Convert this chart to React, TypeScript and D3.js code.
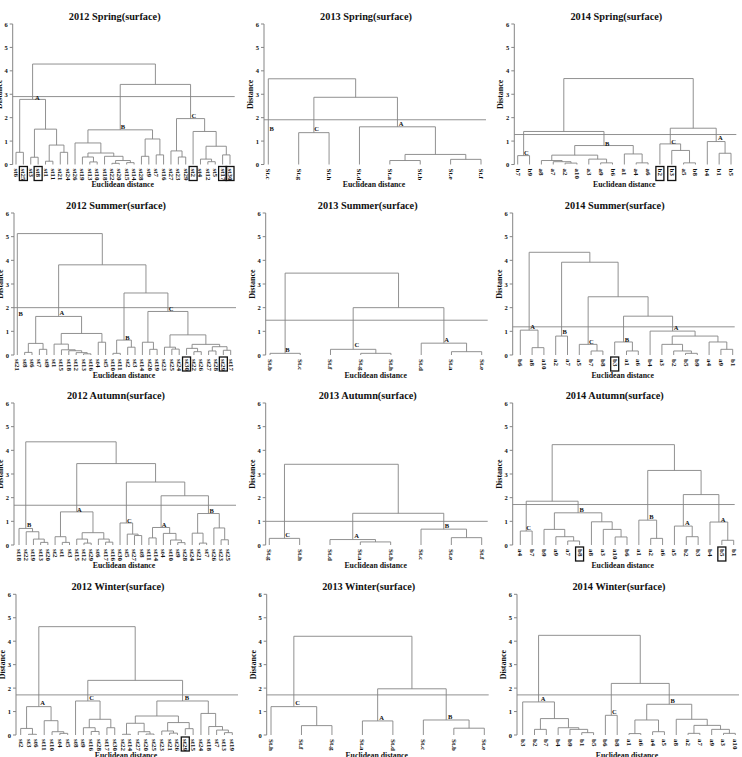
import React from "react";
import * as d3 from "d3";

type Node = number | [number, Node, Node];
type Letter = [string, number, number];

// ---------- 2012 Spring ----------
const spring2012Leaves = ["st6","st25","st3","st8","st1","st11","st21","st24","st26","st19","st13","st10","st18","st22","st20","st15","st14","st28","st9","st7","st16","st27","st23","st29","st2","st4","st12","st5","st17","st30"];
const spring2012Tree: Node = [4.29,
  [2.78, [0.52, 0, 1], [1.51, [0.31, 2, 3], [0.83, [0.14, 4, 5], [0.52, 6, 7]]]],
  [3.42,
    [1.48, [0.92, 8, [0.49, [0.32, 9, [0.11, 10, 11]], [0.35, 12, [0.17, [0.05, 13, 14], [0.08, 15, 16]]]]], [1.09, [0.35, 17, 18], [0.41, 19, 20]]],
    [1.96, [0.58, 21, [0.32, 22, 23]], [1.41, 24, [0.78, [0.23, 25, [0.12, 26, 27]], [0.41, 28, 29]]]]]];
const spring2012Cut = 2.9;
const spring2012Letters: Letter[] = [["A", 2.9, 2.88], ["B", 14.5, 1.64], ["C", 24.1, 2.08]];
const spring2012Boxed = [1, 3, 24, 28, 29];

// ---------- 2013 Spring ----------
const spring2013Leaves = ["St.c","St.g","St.h","St.d","St.a","St.b","St.e","St.f"];
const spring2013Tree: Node = [3.66, 0, [2.87, [1.36, 1, 2], [1.61, 3, [0.43, [0.17, 4, 5], [0.22, 6, 7]]]]];
const spring2013Cut = 1.91;
const spring2013Letters: Letter[] = [["B", 0.11, 1.55], ["C", 1.59, 1.55], ["A", 4.37, 1.75]];
const spring2013Boxed: number[] = [];

// ---------- 2014 Spring ----------
const spring2014Leaves = ["b7","b9","a8","a7","a2","a10","a3","a9","b6","a1","a4","a6","b2","b3","a5","b8","b4","b1","b5"];
const spring2014Tree: Node = [3.67,
  [1.41, [0.38, 0, 1], [0.81, [0.4, [0.17, 2, [0.12, 3, [0.06, 4, 5]]], [0.23, 6, [0.07, 7, 8]]], [0.45, 9, [0.07, 10, 11]]]],
  [1.55, [0.88, 12, [0.6, 13, [0.07, 14, 15]]], [0.98, 16, [0.48, 17, 18]]]];
const spring2014Cut = 1.28;
const spring2014Letters: Letter[] = [["C", 0.73, 0.51], ["B", 7.54, 0.91], ["C", 13.16, 1.0], ["A", 17.1, 1.17]];
const spring2014Boxed = [12, 13];

// ---------- 2012 Summer ----------
const summer2012Leaves = ["st21","st8","st6","st7","st9","st1","st15","st18","st12","st13","st16","st4","st5","st10","st11","st2","st3","st14","st20","st19","st23","st25","st24","st30","st22","st26","st27","st28","st29","st17"];
const summer2012Tree: Node = [5.13, 0,
  [3.81,
    [1.63, [0.49, [0.11, 1, 2], [0.24, 3, 4]], [0.91, [0.46, 5, [0.22, 6, [0.18, 7, [0.1, 8, [0.05, 9, 10]]]]], [0.54, 11, 12]]],
    [2.62, [0.63, [0.07, 13, 14], [0.33, 15, 16]],
      [1.84, [0.54, 17, [0.24, 18, 19]], [0.85, [0.33, 20, [0.25, 21, 22]], [0.45, [0.28, 23, [0.14, 24, 25]], [0.35, [0.17, 26, 27], [0.2, 28, 29]]]]]]]];
const summer2012Cut = 2.0;
const summer2012Letters: Letter[] = [["B", 0.45, 1.77], ["A", 6.05, 1.8], ["B", 14.95, 0.74], ["C", 20.9, 1.95]];
const summer2012Boxed = [23, 28];

// ---------- 2013 Summer ----------
const summer2013Leaves = ["St.b","St.c","St.f","St.g","St.h","St.d","St.a","St.e"];
const summer2013Tree: Node = [3.46, [0.07, 0, 1], [2.0, [0.24, 2, [0.07, 3, 4]], [0.5, 5, [0.14, 6, 7]]]];
const summer2013Cut = 1.47;
const summer2013Letters: Letter[] = [["B", 0.58, 0.24], ["C", 2.87, 0.43], ["A", 5.84, 0.64]];
const summer2013Boxed: number[] = [];

// ---------- 2014 Summer ----------
const summer2014Leaves = ["b6","a8","a10","a2","a7","a5","b7","b8","b3","a1","a6","b4","a3","b2","b5","b9","a4","a9","b1"];
const summer2014Tree: Node = [4.34, [1.05, 0, [0.31, 1, 2]],
  [3.92, [0.8, 3, 4],
    [2.46, [0.45, 5, [0.17, 6, 7]],
      [1.64, [0.55, 8, [0.17, 9, 10]], [1.01, 11, [0.8, [0.45, 12, [0.17, 13, [0.07, 14, 15]]], [0.55, 16, [0.24, 17, 18]]]]]]]];
const summer2014Cut = 1.19;
const summer2014Letters: Letter[] = [["A", 1.05, 1.22], ["B", 3.76, 0.98], ["C", 6.02, 0.59], ["B", 9.04, 0.66], ["A", 13.2, 1.18]];
const summer2014Boxed = [8];

// ---------- 2012 Autumn ----------
const autumn2012Leaves = ["st18","st22","st19","st13","st20","st2","st1","st3","st15","st12","st29","st6","st17","st16","st30","st5","st27","st8","st11","st14","st4","st10","st9","st28","st24","st21","st7","st26","st23","st25"];
const autumn2012Tree: Node = [4.36,
  [0.7, 0, [0.56, 1, [0.25, 2, [0.11, 3, 4]]]],
  [3.44,
    [1.4, [0.35, 5, [0.11, 6, 7]], [0.52, [0.25, 8, [0.08, 9, 10]], [0.25, 11, [0.12, 12, 13]]]],
    [2.66, [0.93, 14, [0.46, 15, [0.4, 16, 17]]],
      [2.08, [0.74, [0.3, 18, 19], [0.49, 20, [0.21, 21, [0.1, 22, 23]]]],
        [1.33, [0.5, 24, [0.08, 25, 26]], [0.72, 27, [0.22, 28, 29]]]]]]];
const autumn2012Cut = 1.68;
const autumn2012Letters: Letter[] = [["B", 1.42, 0.88], ["A", 8.36, 1.51], ["C", 15.3, 1.05], ["A", 20.1, 0.88], ["B", 26.7, 1.47]];
const autumn2012Boxed: number[] = [];

// ---------- 2013 Autumn ----------
const autumn2013Leaves = ["St.g","St.h","St.d","St.a","St.b","St.c","St.e","St.f"];
const autumn2013Tree: Node = [3.41, [0.28, 0, 1], [1.34, [0.23, 2, [0.13, 3, 4]], [0.67, 5, [0.31, 6, 7]]]];
const autumn2013Cut = 1.0;
const autumn2013Letters: Letter[] = [["C", 0.6, 0.46], ["A", 2.88, 0.41], ["B", 5.85, 0.84]];
const autumn2013Boxed: number[] = [];

// ---------- 2014 Autumn ----------
const autumn2014Leaves = ["a4","b7","b9","a9","a7","b8","a8","a3","a10","b6","a1","a2","a6","a5","b2","b3","b4","b5","b1"];
const autumn2014Tree: Node = [4.24,
  [1.85, [0.59, 0, 1], [1.36, [0.66, 2, [0.35, 3, [0.17, 4, 5]]], [0.98, 6, [0.66, 7, [0.34, 8, 9]]]]],
  [3.15, [1.05, 10, [0.28, 11, 12]], [2.13, [0.8, 13, [0.35, 14, 15]], [0.97, 16, [0.2, 17, 18]]]]];
const autumn2014Cut = 1.71;
const autumn2014Letters: Letter[] = [["C", 0.71, 0.73], ["B", 5.18, 1.5], ["B", 11.05, 1.22], ["A", 14.1, 0.94], ["A", 17.1, 1.08]];
const autumn2014Boxed = [5, 17];

// ---------- 2012 Winter ----------
const winter2012Leaves = ["st2","st3","st6","st11","st10","st4","st5","st8","st9","st16","st28","st17","st30","st22","st14","st27","st20","st25","st23","st21","st26","st29","st15","st24","st18","st7","st13","st19"];
const winter2012Tree: Node = [4.62,
  [1.21, [0.28, 0, [0.03, 1, 2]], [0.61, 3, [0.14, 4, [0.07, 5, 6]]]],
  [2.33,
    [1.45, 7, [0.67, [0.31, 8, [0.15, 9, 10]], [0.31, 11, 12]]],
    [1.45,
      [0.81, [0.5, [0.03, 13, 14], [0.14, 15, [0.04, 16, 17]]], [0.53, [0.17, 18, [0.08, 19, 20]], [0.27, 21, 22]]],
      [0.92, 23, [0.36, 24, [0.21, 25, [0.1, 26, 27]]]]]]];
const winter2012Cut = 1.71;
const winter2012Letters: Letter[] = [["A", 2.81, 1.38], ["C", 9.06, 1.59], ["B", 21.2, 1.59]];
const winter2012Boxed = [21];

// ---------- 2013 Winter ----------
const winter2013Leaves = ["St.h","St.f","St.g","St.a","St.d","St.c","St.b","St.e"];
const winter2013Tree: Node = [4.21, [1.21, 0, [0.4, 1, 2]], [1.97, [0.6, 3, 4], [0.64, 5, [0.29, 6, 7]]]];
const winter2013Cut = 1.71;
const winter2013Letters: Letter[] = [["C", 0.875, 1.39], ["A", 3.63, 0.76], ["B", 5.88, 0.79]];
const winter2013Boxed: number[] = [];

// ---------- 2014 Winter ----------
const winter2014Leaves = ["b3","b2","b7","b4","b9","b1","b5","b6","b8","a1","a6","a4","a5","a8","a2","a7","a9","a3","a10"];
const winter2014Tree: Node = [4.25,
  [1.41, 0, [0.7, [0.24, 1, 2], [0.31, 3, [0.24, 4, [0.1, 5, 6]]]]],
  [2.2, [0.84, 7, 8], [1.31, [0.64, [0.06, 9, 10], [0.14, 11, 12]], [0.67, 13, [0.41, [0.07, 14, 15], [0.24, 16, [0.07, 17, 18]]]]]]];
const winter2014Cut = 1.71;
const winter2014Letters: Letter[] = [["A", 1.72, 1.56], ["C", 7.77, 1.02], ["B", 12.7, 1.45]];
const winter2014Boxed: number[] = [];

const yTicks = [0, 1, 2, 3, 4, 5, 6];

const PANELS = [
  { title: "2012 Spring(surface)", leaves: spring2012Leaves, tree: spring2012Tree, cut: spring2012Cut, letters: spring2012Letters, boxed: spring2012Boxed },
  { title: "2013 Spring(surface)", leaves: spring2013Leaves, tree: spring2013Tree, cut: spring2013Cut, letters: spring2013Letters, boxed: spring2013Boxed },
  { title: "2014 Spring(surface)", leaves: spring2014Leaves, tree: spring2014Tree, cut: spring2014Cut, letters: spring2014Letters, boxed: spring2014Boxed },
  { title: "2012 Summer(surface)", leaves: summer2012Leaves, tree: summer2012Tree, cut: summer2012Cut, letters: summer2012Letters, boxed: summer2012Boxed },
  { title: "2013 Summer(surface)", leaves: summer2013Leaves, tree: summer2013Tree, cut: summer2013Cut, letters: summer2013Letters, boxed: summer2013Boxed },
  { title: "2014 Summer(surface)", leaves: summer2014Leaves, tree: summer2014Tree, cut: summer2014Cut, letters: summer2014Letters, boxed: summer2014Boxed },
  { title: "2012 Autumn(surface)", leaves: autumn2012Leaves, tree: autumn2012Tree, cut: autumn2012Cut, letters: autumn2012Letters, boxed: autumn2012Boxed },
  { title: "2013 Autumn(surface)", leaves: autumn2013Leaves, tree: autumn2013Tree, cut: autumn2013Cut, letters: autumn2013Letters, boxed: autumn2013Boxed },
  { title: "2014 Autumn(surface)", leaves: autumn2014Leaves, tree: autumn2014Tree, cut: autumn2014Cut, letters: autumn2014Letters, boxed: autumn2014Boxed },
  { title: "2012 Winter(surface)", leaves: winter2012Leaves, tree: winter2012Tree, cut: winter2012Cut, letters: winter2012Letters, boxed: winter2012Boxed },
  { title: "2013 Winter(surface)", leaves: winter2013Leaves, tree: winter2013Tree, cut: winter2013Cut, letters: winter2013Letters, boxed: winter2013Boxed },
  { title: "2014 Winter(surface)", leaves: winter2014Leaves, tree: winter2014Tree, cut: winter2014Cut, letters: winter2014Letters, boxed: winter2014Boxed },
];

// ---------- geometry ----------
const W = 742, H = 757;
const AXIS_X = [[12.7, 264, 514.3], [14, 265.7, 512.7], [14, 265.7, 512.7], [16, 266.7, 517]];
const LEAF_RANGE = [
  [[16, 230], [268.3, 481], [517.7, 731]],
  [[17.3, 230.7], [270, 481.7], [520.3, 732.7]],
  [[19, 228.3], [269.3, 481.7], [520.3, 733.7]],
  [[20.7, 232.3], [271, 484.3], [522.7, 735.3]],
];
const ROW_Y0 = [164.5, 355, 545, 735];
const ROW_Y6 = [24, 213, 403, 594.3];

const LINE = "#858585";
const FONT = "'Liberation Serif', 'DejaVu Serif', serif";

function Panel({ p, row, col }: { p: typeof PANELS[number]; row: number; col: number }) {
  const ax = AXIS_X[row][col];
  const [l0, l1] = LEAF_RANGE[row][col];
  const y0 = ROW_Y0[row], y6 = ROW_Y6[row];
  const x = d3.scaleLinear().domain([0, p.leaves.length - 1]).range([l0, l1]);
  const y = d3.scaleLinear().domain([0, 6]).range([y0, y6]);
  const path = d3.path();
  const walk = (n: Node): { x: number; h: number } => {
    if (typeof n === "number") return { x: x(n), h: 0 };
    const [h, a, b] = n;
    const L = walk(a), R = walk(b);
    path.moveTo(L.x, y(L.h)); path.lineTo(L.x, y(h)); path.lineTo(R.x, y(h)); path.lineTo(R.x, y(R.h));
    return { x: (L.x + R.x) / 2, h };
  };
  walk(p.tree);
  const cutRight = Math.min(W, ax + 222);
  return (
    <g>
      <text x={ax + 102} y={y6 - 8} textAnchor="middle" dominantBaseline="central" fontFamily={FONT} fontWeight="bold" fontSize={10.3} fill="#111">{p.title}</text>
      {/* y axis */}
      <line x1={ax} x2={ax} y1={y(0)} y2={y(6)} stroke={LINE} strokeWidth={1} />
      {yTicks.map((t) => (
        <g key={t}>
          <line x1={ax - 3} x2={ax} y1={y(t)} y2={y(t)} stroke={LINE} strokeWidth={1} />
          <text x={ax - 5} y={y(t)} textAnchor="end" dominantBaseline="central" fontFamily={FONT} fontWeight="bold" fontSize={6.5} fill="#111">{t}</text>
        </g>
      ))}
      <text transform={`translate(${ax - 11},${(y0 + y6) / 2}) rotate(-90)`} textAnchor="middle" fontFamily={FONT} fontWeight="bold" fontSize={8} fill="#111">Distance</text>
      {/* dendrogram */}
      <path d={path.toString()} fill="none" stroke={LINE} strokeWidth={0.9} />
      {/* cut line */}
      <line x1={ax} x2={cutRight} y1={y(p.cut)} y2={y(p.cut)} stroke={LINE} strokeWidth={0.9} />
      {/* group letters */}
      {p.letters.map(([t, i, h], k) => (
        <text key={k} x={x(i)} y={y(h)} textAnchor="middle" dominantBaseline="central" fontFamily={FONT} fontWeight="bold" fontSize={6.5} fill="#111">{t}</text>
      ))}
      {/* leaf labels */}
      {p.leaves.map((lab, i) => (
        <text key={i} transform={`translate(${x(i)},${y0 + 4}) rotate(90)`} dominantBaseline="central" fontFamily={FONT} fontWeight="bold" fontSize={7} fill="#111">{lab}</text>
      ))}
      {p.boxed.map((i) => (
        <rect key={"b" + i} x={x(i) - 4} y={y0 + 2} width={8} height={14} fill="none" stroke="#111" strokeWidth={1.3} />
      ))}
      <text x={ax + 110} y={y0 + 20} textAnchor="middle" dominantBaseline="central" fontFamily={FONT} fontWeight="bold" fontSize={7.8} fill="#111">Euclidean distance</text>
    </g>
  );
}

export default function App() {
  return (
    <svg width={W} height={H} viewBox={`0 0 ${W} ${H}`} style={{ position: "absolute", left: 0, top: 0, background: "#fff" }}>
      <rect x={0} y={0} width={W} height={H} fill="#fff" />
      {PANELS.map((p, i) => (
        <Panel key={i} p={p} row={Math.floor(i / 3)} col={i % 3} />
      ))}
    </svg>
  );
}
